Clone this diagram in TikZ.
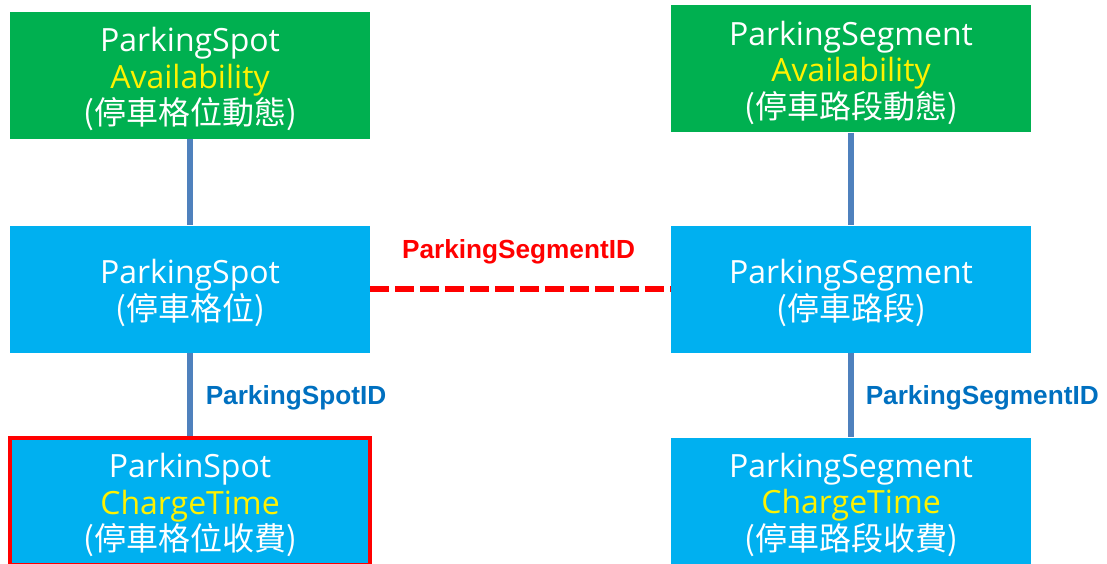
\documentclass[tikz,border=0pt]{standalone}
\usepackage{fontspec}
\setmainfont{Open Sans}
\newfontfamily\cjk{Noto Sans CJK TC}
\newfontfamily\lbl{Liberation Sans}
\usetikzlibrary{positioning}

\definecolor{boxgreen}{RGB}{0,176,80}
\definecolor{boxblue}{RGB}{0,176,240}
\definecolor{linkblue}{RGB}{79,129,189}
\definecolor{idblue}{RGB}{0,112,192}

\tikzset{
    entity/.style={minimum width=360pt, minimum height=127pt, inner sep=0pt,
        text=white, align=center, font=\fontsize{32}{36.5}\selectfont},
    dyn/.style={entity, fill=boxgreen},
    base/.style={entity, fill=boxblue},
    link/.style={linkblue, line width=5.5pt},
    idlabel/.style={font=\lbl\bfseries\fontsize{26.2}{30}\selectfont, inner sep=0pt},
}

\newcommand{\hl}[1]{\textcolor{yellow}{#1}}
\newcommand{\lift}{\rule{0pt}{32pt}}

\begin{document}
\begin{tikzpicture}[x=1pt, y=-1pt]

    \useasboundingbox (0,0) rectangle (1107,564);

    % left column
    \node[dyn] (spotavail) at (190,75.5)
        {\lift ParkingSpot\\\hl{Availability}\\{\cjk (停車格位動態)}};
    \node[base] (spot) at (190,289)
        {\lift ParkingSpot\\{\cjk (停車格位)}};
    \node[base, draw=red, line width=4pt] (spotcharge) at (190,501.5)
        {\lift ParkinSpot\\\hl{ChargeTime}\\{\cjk (停車格位收費)}};

    % right column
    \node[dyn] (segavail) at (851,69)
        {\lift ParkingSegment\\\hl{Availability}\\{\cjk (停車路段動態)}};
    \node[base] (segment) at (851,289)
        {\lift ParkingSegment\\{\cjk (停車路段)}};
    \node[base] (segcharge) at (851,501)
        {\lift ParkingSegment\\\hl{ChargeTime}\\{\cjk (停車路段收費)}};

    % links
    \draw[link] (spotavail) -- (spot);
    \draw[link] (spot) -- node[idlabel, right=13pt, yshift=-3pt, text=idblue] (spotid) {ParkingSpotID} (spotcharge);
    \draw[link] (segavail) -- (segment);
    \draw[link] (segment) -- node[idlabel, right=12pt, yshift=-3pt, text=idblue] (segid) {ParkingSegmentID} (segcharge);

    \draw[red, line width=5.5pt, dash pattern=on 19pt off 6pt]
        (spot) -- node[idlabel, above=22pt, xshift=-2pt, text=red] (segref) {ParkingSegmentID} (segment);

\end{tikzpicture}
\end{document}
